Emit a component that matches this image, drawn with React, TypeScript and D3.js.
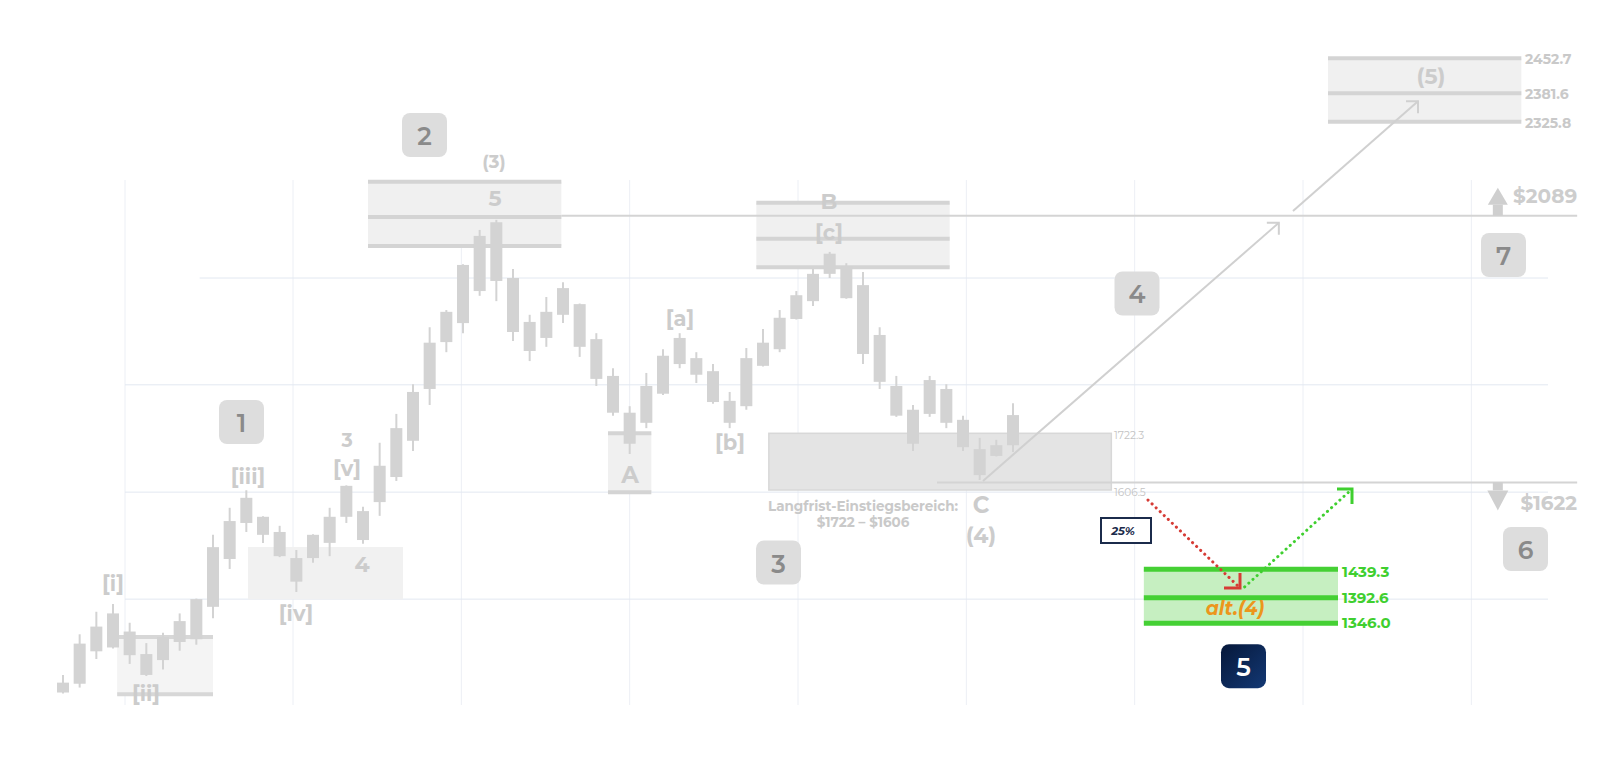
import React from 'react';
import * as d3 from 'd3';

// ---------- candle data (index = bar number, prices) ----------
const opens = [1220, 1236, 1295, 1302, 1331, 1290, 1279, 1312, 1317, 1376, 1461, 1537, 1550, 1518, 1463, 1463, 1495, 1550, 1562, 1581, 1633, 1707, 1797, 1876, 1908, 1962, 1979, 1984, 1910, 1883, 1922, 1940, 1881, 1819, 1757, 1740, 1789, 1839, 1849, 1827, 1777, 1768, 1836, 1864, 1915, 1945, 1991, 2004, 1972, 1888, 1802, 1762, 1755, 1797, 1745, 1690, 1676, 1698];
const closes = [1238, 1309, 1340, 1364, 1288, 1252, 1321, 1350, 1390, 1486, 1541, 1590, 1512, 1467, 1419, 1512, 1550, 1615, 1501, 1656, 1731, 1792, 1875, 1927, 2006, 2055, 2078, 1893, 1861, 1927, 1967, 1868, 1814, 1757, 1701, 1802, 1853, 1883, 1821, 1775, 1740, 1849, 1875, 1917, 1955, 1991, 2025, 1950, 1856, 1809, 1752, 1701, 1812, 1740, 1694, 1637, 1698, 1753];
const highs = [1252, 1326, 1367, 1381, 1347, 1310, 1329, 1364, 1391, 1512, 1569, 1606, 1551, 1531, 1480, 1513, 1569, 1616, 1571, 1703, 1755, 1805, 1901, 1930, 2007, 2065, 2082, 1999, 1922, 1952, 1977, 1941, 1891, 1832, 1768, 1824, 1864, 1891, 1859, 1839, 1792, 1866, 1898, 1930, 1962, 1999, 2028, 2009, 1994, 1901, 1819, 1770, 1819, 1805, 1752, 1713, 1709, 1773];
const lows = [1218, 1229, 1281, 1300, 1272, 1250, 1262, 1296, 1307, 1355, 1440, 1518, 1495, 1465, 1402, 1453, 1467, 1537, 1493, 1552, 1625, 1686, 1770, 1859, 1891, 1954, 1945, 1878, 1844, 1868, 1908, 1851, 1802, 1752, 1680, 1731, 1787, 1832, 1807, 1772, 1731, 1762, 1835, 1859, 1914, 1937, 1984, 1949, 1839, 1797, 1750, 1686, 1750, 1731, 1686, 1627, 1675, 1684];

// ---------- price levels used on the chart ----------
const levelPrices = [1346.0, 1392.6, 1439.3, 1606.5, 1722.3, 2089, 2325.8, 2381.6, 2452.7];
const gridPrices = [1390, 1602, 1804, 1984];
const gridStartBars = [3.72, 3.72, 3.72, 8.2];
const gridBars = [3.72, 13.8, 23.9, 34.0, 44.1, 54.2, 64.3, 74.4, 84.5];

// zones: [fromBar, toBar], price bands / lines
const zoneII = { from: 3.25, to: 9.0, lines: [1217, 1321] };
const zone4 = { from: 11.1, to: 20.4, lines: [1389.7, 1486.3] };
const zone3 = { from: 18.3, to: 29.9, lines: [2037.9, 2087, 2174.6] };
const zoneA = { from: 32.7, to: 35.3, lines: [1601.6, 1722.3] };
const zoneB = { from: 41.6, to: 53.2, lines: [2002, 2050.2, 2121.7] };
const zoneEntry = { from: 42.35, to: 62.9, lines: [1606.5, 1722.3] };
const zoneAlt = { from: 64.85, to: 76.5, lines: [1346.0, 1392.6, 1439.3] };
const zone5 = { from: 75.9, to: 87.5, lines: [2325.8, 2381.6, 2452.7] };

const line2089 = { from: 29.9, to: 90.85, price: 2089 };
const line1622 = { from: 52.44, to: 90.85, price: 1622 };

// projection paths [bar, price]
const projA: [number, number][] = [[55.2, 1625], [72.95, 2077]];
const projB: [number, number][] = [[73.8, 2101], [81.3, 2366]];
const redPath: [number, number][] = [[65.1, 1585.4], [70.62, 1408.7]];
const greenPath: [number, number][] = [[70.9, 1410.4], [77.34, 1608.5]];

// wave labels
const waveTexts = ['[i]', '[ii]', '[iii]', '[iv]', '3', '[v]', '4', '(3)', '5', 'A', '[a]', '[b]', 'B', '[c]', 'C', '(4)', '(5)'];
const waveBars = [3.0, 4.98, 11.1, 13.98, 17.04, 17.04, 17.94, 25.86, 25.92, 34.02, 37.02, 40.02, 45.96, 45.96, 55.08, 55.08, 82.08];
const wavePrices = [1415.6, 1218.7, 1633.1, 1363.8, 1708.6, 1651.4, 1448.4, 2224.3, 2131.1, 1637.1, 1916.6, 1702.5, 2126, 2061.5, 1574.9, 1511.6, 2416.7];
const waveSizes = [21, 21, 21, 21, 19, 21, 22, 18, 22, 23, 21, 21, 22, 21, 23, 22, 22];

// numbered callouts
const boxTexts = ['1', '2', '3', '4', '5', '6', '7'];
const boxBars = [10.71, 21.69, 42.93, 64.44, 70.83, 87.75, 86.43];
const boxPrices = [1741.3, 2292.3, 1453.6, 1957.9, 1267.9, 1482.1, 2022.8];

const FONT = "Montserrat, 'Open Sans', 'Noto Sans', sans-serif";

export default function App() {
  const x = d3.scaleLinear().domain([0, 57]).range([63, 1013]);
  const y = d3
    .scaleLinear()
    .domain(levelPrices)
    .range([623.3, 597.7, 569.3, 490, 433.3, 215.7, 121.7, 93.3, 58.3]);
  const bw = 12;
  const lineGen = d3.line<[number, number]>().x((d) => x(d[0])).y((d) => y(d[1]));

  const bandZone = (z: { from: number; to: number; lines: number[] }, fill: string, lineColor: string | null, lw: number, key: string) => {
    const top = d3.max(z.lines)!;
    const bot = d3.min(z.lines)!;
    return (
      <g key={key}>
        <rect x={x(z.from)} y={y(top)} width={x(z.to) - x(z.from)} height={y(bot) - y(top)} fill={fill} />
        {lineColor &&
          z.lines.map((p, i) => (
            <line key={i} x1={x(z.from)} x2={x(z.to)} y1={y(p)} y2={y(p)} stroke={lineColor} strokeWidth={lw} />
          ))}
      </g>
    );
  };

  const chev = (px: number, py: number, color: string, w: number, len: number, dx: number, dy: number) => (
    <path d={`M${px + dx * len},${py} L${px},${py} L${px},${py + dy * len}`} fill="none" stroke={color} strokeWidth={w} />
  );

  const pA = projA[1];
  const pB = projB[1];
  const rEnd = redPath[1];
  const gEnd = greenPath[1];

  return (
    <svg width={1624} height={782} style={{ position: 'absolute', left: 0, top: 0, background: '#fff' }} fontFamily={FONT}>
      <defs>
        <linearGradient id="navy" x1="0" y1="0" x2="1" y2="1">
          <stop offset="0" stopColor="#06183a" />
          <stop offset="1" stopColor="#133874" />
        </linearGradient>
      </defs>
      <rect width={1624} height={782} fill="#fff" />

      {/* grid */}
      {gridBars.map((b, i) => (
        <line key={'gv' + i} x1={x(b)} x2={x(b)} y1={180} y2={705} stroke="#eceff5" strokeWidth={1} />
      ))}
      {gridPrices.map((p, i) => (
        <line key={'gh' + i} x1={x(gridStartBars[i])} x2={x(89.1)} y1={y(p)} y2={y(p)} stroke="#e2e8f1" strokeWidth={1} />
      ))}

      {/* zones */}
      {bandZone(zoneII, '#f4f4f4', '#d7d7d7', 4, 'zii')}
      {bandZone(zone4, '#f1f1f1', null, 0, 'z4')}
      {bandZone(zone3, '#f0f0f0', '#d4d4d4', 4, 'z3')}
      {bandZone(zoneA, '#f0f0f0', '#d4d4d4', 4, 'za')}
      {bandZone(zoneB, '#f0f0f0', '#d4d4d4', 4, 'zb')}
      <rect
        x={x(zoneEntry.from)}
        y={y(zoneEntry.lines[1])}
        width={x(zoneEntry.to) - x(zoneEntry.from)}
        height={y(zoneEntry.lines[0]) - y(zoneEntry.lines[1])}
        fill="#e4e4e4"
        stroke="#d8d8d8"
        strokeWidth={1.5}
      />
      {bandZone(zoneAlt, '#c6efc1', '#45d034', 5, 'zalt')}
      {bandZone(zone5, '#f0f0f0', '#d4d4d4', 4, 'z5')}

      {/* level lines */}
      <line x1={x(line2089.from)} x2={x(line2089.to)} y1={y(line2089.price)} y2={y(line2089.price)} stroke="#d4d4d4" strokeWidth={2} />
      <line x1={x(line1622.from)} x2={x(line1622.to)} y1={y(line1622.price)} y2={y(line1622.price)} stroke="#d4d4d4" strokeWidth={2} />

      {/* candles */}
      {opens.map((o, i) => {
        const c = closes[i];
        const top = y(Math.max(o, c));
        const bot = y(Math.min(o, c));
        return (
          <g key={'c' + i}>
            <line x1={x(i)} x2={x(i)} y1={y(highs[i])} y2={y(lows[i])} stroke="#d3d3d3" strokeWidth={2} />
            <rect x={x(i) - bw / 2} y={top} width={bw} height={Math.max(1, bot - top)} fill="#d3d3d3" />
          </g>
        );
      })}

      {/* projection gray arrows */}
      <path d={lineGen(projA)!} fill="none" stroke="#d0d0d0" strokeWidth={2} />
      {chev(x(pA[0]), y(pA[1]), '#d0d0d0', 2, 12, -1, 1)}
      <path d={lineGen(projB)!} fill="none" stroke="#d0d0d0" strokeWidth={2} />
      {chev(x(pB[0]), y(pB[1]), '#d0d0d0', 2, 12, -1, 1)}

      {/* red dotted */}
      <path d={lineGen(redPath)!} fill="none" stroke="#d63c36" strokeWidth={3} strokeDasharray="0.1 5.5" strokeLinecap="round" />
      <path
        d={`M${x(rEnd[0])},${y(rEnd[1]) - 15} L${x(rEnd[0])},${y(rEnd[1])} L${x(rEnd[0]) - 16},${y(rEnd[1])}`}
        fill="none"
        stroke="#d63c36"
        strokeWidth={3}
      />
      {/* green dotted */}
      <path d={lineGen(greenPath)!} fill="none" stroke="#3fcf2f" strokeWidth={3} strokeDasharray="0.1 5.5" strokeLinecap="round" />
      {chev(x(gEnd[0]), y(gEnd[1]), '#3fcf2f', 3, 15, -1, 1)}

      {/* arrows near $ labels */}
      <g fill="#cfcfcf">
        <rect x={x(86.09) - 5} y={y(2089) - 11} width={10} height={11} />
        <path d={`M${x(86.09) - 10},${y(2089) - 11} L${x(86.09) + 10},${y(2089) - 11} L${x(86.09)},${y(2089) - 28} Z`} />
        <rect x={x(86.09) - 5} y={y(1622)} width={10} height={8} />
        <path d={`M${x(86.09) - 10.5},${y(1622) + 8} L${x(86.09) + 10.5},${y(1622) + 8} L${x(86.09)},${y(1622) + 28} Z`} />
      </g>
      <text x={x(90.85)} y={y(2089) - 20} textAnchor="end" dominantBaseline="central" fontSize={20} fontWeight={700} fill="#cdcdcd">
        $2089
      </text>
      <text x={x(90.85)} y={y(1622) + 21} textAnchor="end" dominantBaseline="central" fontSize={20} fontWeight={700} fill="#cdcdcd">
        $1622
      </text>

      {/* level labels */}
      {zone5.lines.map((p, i) => (
        <text key={'l5' + i} x={x(87.72)} y={y(p) + 1} dominantBaseline="central" fontSize={14} fontWeight={700} fill="#c9c9c9">
          {p.toFixed(1)}
        </text>
      ))}
      {zoneEntry.lines.map((p, i) => (
        <text key={'le' + i} x={x(63.06)} y={y(p) + 2} dominantBaseline="central" fontSize={10.5} fill="#c4c4c4">
          {p.toFixed(1)}
        </text>
      ))}
      {zoneAlt.lines.map((p, i) => (
        <text key={'la' + i} x={x(76.74)} y={y(p) + (i === 2 ? 2 : i === 0 ? -1 : 0)} dominantBaseline="central" fontSize={15} fontWeight={700} fill="#3fcf2f">
          {p.toFixed(1)}
        </text>
      ))}

      {/* wave labels */}
      {waveTexts.map((t, i) => (
        <text
          key={'w' + i}
          x={x(waveBars[i])}
          y={y(wavePrices[i])}
          textAnchor="middle"
          dominantBaseline="central"
          fontSize={waveSizes[i]}
          fontWeight={700}
          fill="#cccccc"
        >
          {t}
        </text>
      ))}

      {/* entry zone caption */}
      <text x={x(48.0)} y={y(1572.8)} textAnchor="middle" dominantBaseline="central" fontSize={13.5} fontWeight={700} fill="#c9c9c9">
        Langfrist-Einstiegsbereich:
      </text>
      <text x={x(48.0)} y={y(1539)} textAnchor="middle" dominantBaseline="central" fontSize={13.5} fontWeight={700} fill="#c9c9c9">
        $1722 – $1606
      </text>

      {/* alt.(4) */}
      <text x={x(70.32)} y={y(1372.4)} textAnchor="middle" dominantBaseline="central" fontSize={19} fontWeight={700} fontStyle="italic" fill="#ec961c">
        alt.(4)
      </text>

      {/* 25% box */}
      <rect x={x(63.78) - 25} y={y(1521.1) - 12.5} width={50} height={25} fill="#fff" stroke="#1b2b4b" strokeWidth={2} />
      <text x={x(63.78) - 3} y={y(1521.1)} textAnchor="middle" dominantBaseline="central" fontSize={11.5} fontWeight={700} fontStyle="italic" fill="#1b2b4b">
        25%
      </text>

      {/* numbered callouts */}
      {boxTexts.map((t, i) => {
        const cx = x(boxBars[i]);
        const cy = y(boxPrices[i]);
        const dark = t === '5';
        return (
          <g key={'b' + i}>
            <rect x={cx - 22.5} y={cy - 22} width={45} height={44} rx={8} fill={dark ? 'url(#navy)' : '#dddddd'} />
            <text x={cx} y={cy + 1} textAnchor="middle" dominantBaseline="central" fontSize={25} fontWeight={600} fill={dark ? '#ffffff' : '#8a8a8a'}>
              {t}
            </text>
          </g>
        );
      })}
    </svg>
  );
}
